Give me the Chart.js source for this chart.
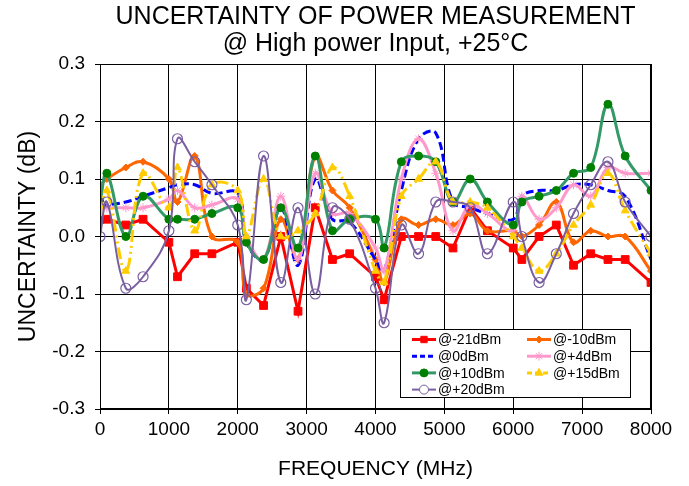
<!DOCTYPE html>
<html>
<head>
<meta charset="utf-8">
<title>Uncertainty of power measurement</title>
<script src="https://cdn.jsdelivr.net/npm/chart.js@4.4.1/dist/chart.umd.min.js"></script>
<style>
  html, body { margin: 0; padding: 0; background: #fff; }
  #wrap { width: 689px; height: 486px; }
</style>
</head>
<body>
<div id="wrap"><canvas id="chart" width="689" height="486"></canvas></div>
<script>
  'use strict';

  // frequencies (MHz)
  var freqMHz = [0, 100, 375, 625, 1000, 1125, 1375, 1625, 2000, 2125, 2375, 2625, 2875, 3125, 3375, 3625,
    4000, 4125, 4375, 4625, 4875, 5125, 5375, 5625, 6000, 6125, 6375, 6625, 6875, 7125, 7375, 7625, 8000];

  // uncertainty (dB) per input level
  var at_m21 = [0.03, 0.03, 0.02, 0.03, -0.01, -0.07, -0.03, -0.03, -0.01, -0.09, -0.12, 0.00, -0.13, 0.05, -0.04, -0.03,
    -0.07, -0.11, 0.00, 0.00, 0.00, -0.02, 0.05, 0.01, -0.02, -0.04, 0.00, 0.02, -0.05, -0.03, -0.04, -0.04, -0.08];
  var at_m10 = [0.09, 0.10, 0.12, 0.13, 0.10, 0.06, 0.14, 0.00, -0.01, -0.10, -0.09, 0.03, -0.04, 0.14, 0.08, 0.05,
    -0.04, -0.08, 0.03, 0.02, 0.03, 0.02, 0.04, 0.01, 0.01, 0.00, 0.02, 0.06, -0.01, 0.01, 0.00, 0.00, -0.06];
  var at_0 = [0.055, 0.055, 0.06, 0.07, 0.085, 0.09, 0.09, 0.075, 0.075, -0.01, -0.04, 0.05, -0.05, 0.10, 0.03, 0.025,
    -0.04, -0.06, 0.08, 0.17, 0.18, 0.06, 0.05, 0.04, 0.03, 0.07, 0.08, 0.08, 0.09, 0.09, 0.08, 0.07, -0.04];
  var at_p4 = [0.05, 0.05, 0.05, 0.05, 0.065, 0.08, 0.05, 0.055, 0.065, 0.00, -0.04, 0.07, -0.04, 0.11, 0.04, 0.04,
    -0.02, -0.06, 0.10, 0.17, 0.11, 0.01, 0.055, 0.04, 0.01, 0.07, 0.03, 0.05, 0.09, 0.07, 0.12, 0.11, 0.11];
  var at_p10 = [0.06, 0.11, 0.00, 0.07, 0.03, 0.03, 0.03, 0.04, 0.05, -0.01, -0.04, 0.05, -0.02, 0.14, 0.01, 0.03,
    0.03, -0.02, 0.13, 0.14, 0.13, 0.06, 0.10, 0.06, 0.02, 0.06, 0.07, 0.08, 0.11, 0.12, 0.23, 0.14, 0.08];
  var at_p15 = [0.04, 0.08, -0.06, 0.11, 0.05, 0.12, 0.01, 0.09, 0.08, 0.00, 0.10, 0.00, 0.01, 0.04, 0.12, 0.07,
    -0.06, -0.08, 0.07, 0.10, 0.13, 0.06, 0.06, 0.05, 0.00, -0.02, -0.06, -0.03, 0.02, 0.055, 0.11, 0.045, -0.03];
  var at_p20 = [0.00, 0.06, -0.09, -0.07, 0.01, 0.17, 0.13, 0.09, 0.02, -0.11, 0.14, -0.08, 0.05, -0.10, 0.05, 0.03,
    -0.09, -0.15, 0.02, -0.03, 0.06, 0.06, 0.05, -0.03, 0.06, 0.00, -0.08, -0.03, 0.04, 0.09, 0.13, 0.06, 0.00];

  var seriesNames = ['@-21dBm', '@-10dBm', '@0dBm', '@+4dBm', '@+10dBm', '@+15dBm', '@+20dBm'];
  var seriesValues = [at_m21, at_m10, at_0, at_p4, at_p10, at_p15, at_p20];

  var yMin = -0.3, yMax = 0.3, yStep = 0.1;
  var xMin = 0, xMax = 8000, xStep = 1000;

  var FONT = "'Liberation Sans', Arial, sans-serif";

  // look of each series, same order as seriesNames
  var looks = [
    { line: '#ff0000', fill: '#ff0000', style: 'rect', r: 5.5, width: 3, tension: 0 },
    { line: '#ff6600', fill: '#ff6600', style: 'rectRot', r: 3.5, width: 3, tension: 0.4 },
    { line: '#0000ff', fill: '#0000ff', style: false, r: 0, width: 3, tension: 0.4, dash: [8, 4] },
    { line: '#ff99cc', fill: '#ff99cc', style: 'star', r: 4.5, width: 3, tension: 0.4 },
    { line: '#339966', fill: '#008000', style: 'circle', r: 4, width: 3, tension: 0.4 },
    { line: '#ffcc00', fill: '#ffcc00', style: 'triangle', r: 4.5, width: 3, tension: 0.4, dash: [12, 4, 2, 4, 2, 4] },
    { line: '#7a5fa0', fill: 'rgba(255,255,255,0)', style: 'circle', r: 5, width: 2, tension: 0.4 }
  ];

  function toPoints(values) {
    var pts = [];
    for (var i = 0; i < freqMHz.length; i++) {
      pts.push({ x: freqMHz[i], y: values[i] });
    }
    return pts;
  }

  var datasets = seriesNames.map(function(name, i) {
    var lk = looks[i];
    return {
      label: name,
      data: toPoints(seriesValues[i]),
      borderColor: lk.line,
      backgroundColor: lk.fill,
      borderWidth: lk.width,
      borderDash: lk.dash || [],
      tension: lk.tension,
      fill: false,
      pointStyle: lk.style,
      pointRadius: lk.style ? lk.r : 0,
      pointBorderColor: i === 4 ? '#008000' : lk.line,
      pointBackgroundColor: lk.fill,
      pointBorderWidth: i === 6 ? 1.2 : 1,
      // later series drawn on top, like the spreadsheet
      order: seriesNames.length - i
    };
  });

  // white page behind everything, frame round the plot
  var paper = {
    id: 'paper',
    beforeDraw: function(chart) {
      var ctx = chart.ctx;
      ctx.save();
      ctx.fillStyle = '#fff';
      ctx.fillRect(0, 0, chart.width, chart.height);
      ctx.restore();
    },
    afterDraw: function(chart) {
      var a = chart.chartArea, ctx = chart.ctx;
      ctx.save();
      ctx.strokeStyle = '#000';
      ctx.lineWidth = 1;
      ctx.strokeRect(Math.round(a.left) + 0.5, Math.round(a.top) + 0.5,
        Math.round(a.right - a.left) - 1, Math.round(a.bottom - a.top) - 1);
      ctx.restore();
    }
  };

  // boxed legend inside the plot, two columns
  var boxLegend = {
    id: 'boxLegend',
    afterDatasetsDraw: function(chart) {
      var ctx = chart.ctx, a = chart.chartArea;
      var w = 230, h = 68;
      var x0 = Math.round(a.right) - 21 - w, y0 = Math.round(a.bottom) - 12 - h;
      ctx.save();
      ctx.fillStyle = '#fff';
      ctx.fillRect(x0, y0, w, h);
      ctx.strokeStyle = '#000';
      ctx.lineWidth = 1;
      ctx.strokeRect(x0 + 0.5, y0 + 0.5, w, h);

      ctx.font = '14px ' + FONT;
      ctx.textBaseline = 'middle';
      ctx.textAlign = 'left';
      for (var i = 0; i < seriesNames.length; i++) {
        var lk = looks[i];
        var col = i % 2, row = Math.floor(i / 2);
        var lx = x0 + 12 + col * 115;
        var ly = y0 + 10.5 + row * 16.7;
        ctx.save();
        ctx.strokeStyle = lk.line;
        ctx.lineWidth = lk.width;
        ctx.setLineDash(lk.dash ? [5, 3] : []);
        ctx.beginPath();
        ctx.moveTo(lx, ly);
        ctx.lineTo(lx + 24, ly);
        ctx.stroke();
        ctx.restore();
        if (lk.style) {
          ctx.save();
          ctx.fillStyle = i === 6 ? '#fff' : lk.fill;
          ctx.strokeStyle = i === 4 ? '#008000' : lk.line;
          ctx.lineWidth = 1;
          Chart.helpers.drawPoint(ctx, {
            pointStyle: lk.style, radius: Math.min(lk.r, 4.5), rotation: 0, borderWidth: 1
          }, lx + 12, ly);
          ctx.restore();
        }
        ctx.fillStyle = '#000';
        ctx.fillText(seriesNames[i], lx + 26, ly + 1);
      }
      ctx.restore();
    }
  };

  new Chart(document.getElementById('chart'), {
    type: 'line',
    data: { datasets: datasets },
    plugins: [paper, boxLegend],
    options: {
      responsive: false,
      animation: false,
      events: [],
      layout: { padding: { left: 0, right: 38, top: 0, bottom: 0 } },
      plugins: {
        legend: { display: false },
        tooltip: { enabled: false },
        title: {
          display: true,
          fullSize: false,
          text: ['UNCERTAINTY OF POWER MEASUREMENT', '@ High power Input, +25\u00b0C'],
          color: '#000',
          font: { family: FONT, size: 25, weight: 'normal', lineHeight: 1.1 },
          padding: { top: 3, bottom: 6 }
        }
      },
      scales: {
        x: {
          type: 'linear',
          min: xMin,
          max: xMax,
          afterFit: function(s) { s.height = 77; },
          ticks: {
            stepSize: xStep,
            color: '#000',
            padding: 4,
            maxRotation: 0,
            font: { family: FONT, size: 19 },
            callback: function(v) { return String(v); }
          },
          grid: { color: '#000', lineWidth: 1, tickLength: 5, drawTicks: true },
          border: { color: '#000', width: 1 },
          title: {
            display: true,
            text: 'FREQUENCY (MHz)',
            color: '#000',
            font: { family: FONT, size: 21 },
            padding: { top: 0, bottom: 4 }
          }
        },
        y: {
          min: yMin,
          max: yMax,
          afterFit: function(s) { s.width = 100; },
          ticks: {
            stepSize: yStep,
            color: '#000',
            padding: 10,
            font: { family: FONT, size: 19 },
            callback: function(v) {
              if (Math.abs(v) < 1e-9) return '0.0';
              return Number(v).toFixed(1);
            }
          },
          grid: { color: '#000', lineWidth: 1, tickLength: 5, drawTicks: true },
          border: { color: '#000', width: 1 },
          title: {
            display: true,
            text: 'UNCERTAINTY (dB)',
            color: '#000',
            font: { family: FONT, size: 23 },
            padding: { top: 15, bottom: 0 }
          }
        }
      }
    }
  });
</script>
</body>
</html>
